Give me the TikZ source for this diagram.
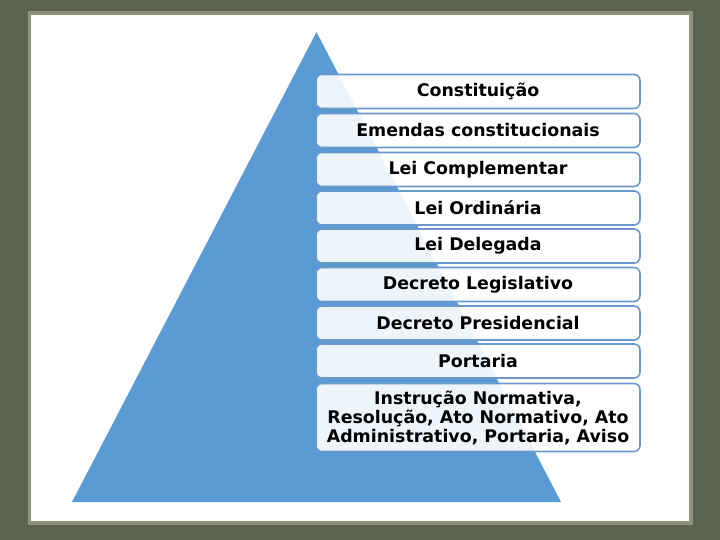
\documentclass[tikz,border=0pt]{standalone}
\usepackage{fontspec}
\setmainfont{DejaVu Sans}
\definecolor{olive}{HTML}{5C6350}
\definecolor{paperedge}{HTML}{8E937F}
\definecolor{tri}{HTML}{5B9BD5}
\definecolor{boxline}{HTML}{6A9ACB}
\tikzset{
  lvl/.style={draw=boxline, line width=1.6pt, rounded corners=6pt, fill=white, fill opacity=0.9, text opacity=1,
    minimum width=324pt, minimum height=34pt, inner sep=1pt, align=center,
    font=\fontsize{17.4}{19}\selectfont\bfseries, text=black},
}
\begin{document}
\begin{tikzpicture}[x=1pt,y=-1pt]
\useasboundingbox (0,0) rectangle (720,540);
\fill[olive] (0,0) rectangle (720,540);
\draw[paperedge, line width=7pt] (31,15) rectangle (689,521);
\fill[white] (31,15) rectangle (689,521);
\coordinate (apex) at (316.5,32);
\coordinate (bl) at (72,502);
\coordinate (br) at (561,502);
\fill[tri] (apex) -- (br) -- (bl) -- cycle;
\node[lvl] (b1) at (478,91.5) {Constituição};
\node[lvl] (b2) at (478,130.5) {Emendas constitucionais};
\node[lvl] (b3) at (478,169.5) {Lei Complementar};
\node[lvl] (b4) at (478,208) {Lei Ordinária};
\node[lvl] (b5) at (478,246) {Lei Delegada};
\node[lvl] (b6) at (478,284.5) {Decreto Legislativo};
\node[lvl] (b7) at (478,323) {Decreto Presidencial};
\node[lvl] (b8) at (478,361) {Portaria};
\node[lvl, minimum height=68pt] (b9) at (478,417.5) {Instrução Normativa,\\Resolução, Ato Normativo, Ato\\Administrativo, Portaria, Aviso};
\end{tikzpicture}
\end{document}
